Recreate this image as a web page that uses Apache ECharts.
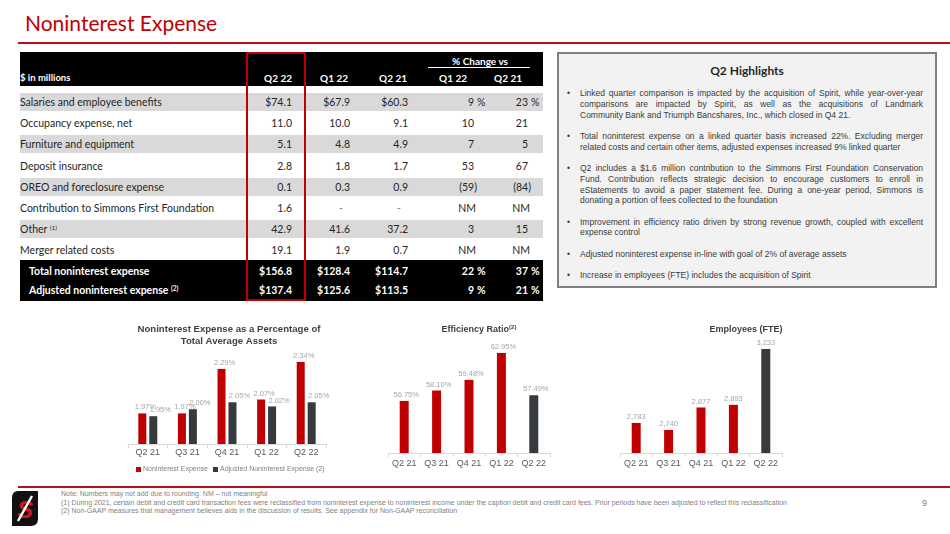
<!DOCTYPE html>
<html><head><meta charset="utf-8">
<script src="https://cdn.jsdelivr.net/npm/echarts@6/dist/echarts.min.js"></script>
<style>
html,body{margin:0;padding:0;background:#fff;}
body{width:950px;height:534px;overflow:hidden;position:relative;font-family:Lato,'Open Sans',sans-serif;}
.t{position:absolute;white-space:nowrap;}
.box{position:absolute;}
.sup{font-size:6.5px;position:relative;top:-3.5px;}
.hl{position:absolute;font-family:'Liberation Sans',Arial,sans-serif;font-size:8.5px;color:#3a3a3a;white-space:nowrap;}
.hlj{text-align:justify;text-align-last:justify;white-space:normal;}
.note{position:absolute;left:61px;font-family:'Liberation Sans',Arial,sans-serif;font-size:7.4px;color:#7f7f7f;white-space:nowrap;transform-origin:0 50%;}
</style></head><body>
<div id="chart" style="position:absolute;left:0;top:310px;width:950px;height:176px;"></div>
<script>
// ---------- DATA ----------
const categories = ['Q2 21','Q3 21','Q4 21','Q1 22','Q2 22'];
const nieToAssets = [1.97, 1.97, 2.29, 2.07, 2.34];
const adjNieToAssets = [1.95, 2.00, 2.05, 2.02, 2.05];
const efficiencyRatio = [56.75, 58.10, 59.48, 62.95, 57.49];
const employeesFTE = [2783, 2740, 2877, 2893, 3233];

const tableHeaders = ['$ in millions','Q2 22','Q1 22','Q2 21','Q1 22','Q2 21'];
const rowLabels = ['Salaries and employee benefits','Occupancy expense, net','Furniture and equipment','Deposit insurance','OREO and foreclosure expense','Contribution to Simmons First Foundation','Other','Merger related costs'];
const rowSup = ['','','','','','','(1)',''];
const valQ222 = ['$74.1','11.0','5.1','2.8','0.1','1.6','42.9','19.1'];
const valQ122 = ['$67.9','10.0','4.8','1.8','0.3','-','41.6','1.9'];
const valQ221 = ['$60.3','9.1','4.9','1.7','0.9','-','37.2','0.7'];
const chgVsQ122 = ['9','10','7','53','(59)','NM','3','NM'];
const chgVsQ221 = ['23','21','5','67','(84)','NM','15','NM'];
const totalLabels = ['Total noninterest expense','Adjusted noninterest expense'];
const totalSup = ['','(2)'];
const totQ222 = ['$156.8','$137.4'];
const totQ122 = ['$128.4','$125.6'];
const totQ221 = ['$114.7','$113.5'];
const totChgQ122 = ['22','9'];
const totChgQ221 = ['37','21'];

const highlights = [
 ['Linked quarter comparison is impacted by the acquisition of Spirit, while year-over-year','comparisons are impacted by Spirit, as well as the acquisitions of Landmark','Community Bank and Triumph Bancshares, Inc., which closed in Q4 21.'],
 ['Total noninterest expense on a  linked quarter basis increased 22%. Excluding merger','related costs and certain other items, adjusted expenses increased 9% linked quarter'],
 ['Q2 includes a $1.6 million contribution to the Simmons First Foundation Conservation','Fund. Contribution reflects strategic decision to encourage customers to enroll in','eStatements to avoid a paper statement fee. During a one-year period, Simmons is','donating a portion of fees collected to the foundation'],
 ['Improvement in efficiency ratio driven by strong revenue growth, coupled with excellent','expense control'],
 ['Adjusted noninterest expense in-line with goal of 2% of average assets'],
 ['Increase in employees (FTE) includes the acquisition of Spirit']
];
const notes = [
 'Note: Numbers may not add due to rounding.  NM \u2013 not meaningful',
 '(1)  During 2021, certain debit and credit card transaction fees were reclassified from noninterest expense to noninterest income under the caption debit and credit card fees. Prior periods have been adjusted to reflect this reclassification',
 '(2)  Non-GAAP measures that management believes aids in the discussion of results. See appendix for Non-GAAP reconciliation'
];

// ---------- HTML LAYOUT ----------
const B = document.body;
function rect(x,y,w,h,bg,extra){const d=document.createElement('div');d.className='box';d.style.cssText=`left:${x}px;top:${y}px;width:${w}px;height:${h}px;background:${bg};`+(extra||'');B.appendChild(d);return d;}
function put(s,x,yc,o){o=o||{};const d=document.createElement('div');d.className='t';d.innerHTML=s;const lh=14;
 d.style.top=(yc-lh/2)+'px';d.style.lineHeight=lh+'px';d.style.height=lh+'px';
 if(o.align==='right'){d.style.left=(x-250)+'px';d.style.width='250px';d.style.textAlign='right';}
 else if(o.align==='center'){d.style.left=(x-250)+'px';d.style.width='500px';d.style.textAlign='center';}
 else d.style.left=x+'px';
 d.style.fontSize=(o.size||10.5)+'px';d.style.fontWeight=o.bold?'700':'400';d.style.color=o.color||'#262626';
 if(o.font) d.style.fontFamily=o.font;
 B.appendChild(d);return d;}

// Title
put('Noninterest Expense',25,23,{size:21,color:'#C00000'});
rect(18,42,932,2,'#B4121B');

// Table
const TL=20, TW=523;
const colR=[292,350,408,474,528];
const pctX=[477,531];
rect(TL,52,TW,34,'#000');
put('% Change vs',480,61,{align:'center',bold:true,color:'#fff',size:10});
rect(428,67,102,1,'#fff');
put(tableHeaders[0],TL,78,{bold:true,color:'#fff',size:9.5});
put(tableHeaders[1],292,78,{align:'right',bold:true,color:'#fff',size:10});
put(tableHeaders[2],348,78,{align:'right',bold:true,color:'#fff',size:10});
put(tableHeaders[3],407,78,{align:'right',bold:true,color:'#fff',size:10});
put(tableHeaders[4],467,78,{align:'right',bold:true,color:'#fff',size:10});
put(tableHeaders[5],522,78,{align:'right',bold:true,color:'#fff',size:10});

function pctCell(v,ci,yc,o){
 const paren=v.charAt(0)==='(';
 const nm=v==='NM';
 put(v,colR[3+ci]+(paren?3:(nm?2:0)),yc,Object.assign({align:'right'},o));
}
rowLabels.forEach((lab,i)=>{
 const yc=102+21.2*i;
 if(i%2===0) rect(TL,yc-9,TW,18,'#D9D9D9');
});
rowLabels.forEach((lab,i)=>{
 const yc=102+21.2*i;
 put(lab+(rowSup[i]?' <span class="sup">'+rowSup[i]+'</span>':''),TL,yc);
 const dash=v=>v==='-';
 put(valQ222[i],colR[0],yc,{align:'right'});
 put(valQ122[i],colR[1]-(dash(valQ122[i])?7:0),yc,{align:'right',color:dash(valQ122[i])?'#7f7f7f':'#262626'});
 put(valQ221[i],colR[2]-(dash(valQ221[i])?7:0),yc,{align:'right',color:dash(valQ221[i])?'#7f7f7f':'#262626'});
 pctCell(chgVsQ122[i],0,yc,{});
 pctCell(chgVsQ221[i],1,yc,{});
 if(i===0){put('%',pctX[0],yc);put('%',pctX[1],yc);}
});
rect(TL,260,TW,41,'#000');
totalLabels.forEach((lab,i)=>{
 const yc=[271,290][i];
 const o={bold:true,color:'#fff'};
 put(lab+(totalSup[i]?' <span class="sup">'+totalSup[i]+'</span>':''),29,yc,o);
 put(totQ222[i],colR[0],yc,Object.assign({align:'right'},o));
 put(totQ122[i],colR[1],yc,Object.assign({align:'right'},o));
 put(totQ221[i],colR[2],yc,Object.assign({align:'right'},o));
 put(totChgQ122[i],colR[3],yc,Object.assign({align:'right'},o));
 put(totChgQ221[i],colR[4],yc,Object.assign({align:'right'},o));
 put('%',pctX[0],yc,o);put('%',pctX[1],yc,o);
});
// red highlight box around Q2 22 column
rect(246,52,60,249,'transparent','border:2px solid #C00000;box-sizing:border-box;');

// Highlights box
rect(557,52,380,236,'#F2F2F2','border:2px solid #7F7F7F;box-sizing:border-box;');
put('Q2 Highlights',747,71,{align:'center',bold:true,size:12});
let yy=93.3;
highlights.forEach(lines=>{
 const b=document.createElement('div');b.className='hl';b.textContent='\u2022';
 b.style.left='567px';b.style.top=(yy-6)+'px';b.style.lineHeight='12px';B.appendChild(b);
 lines.forEach((ln,k)=>{
  const d=document.createElement('div');d.className='hl'+(k<lines.length-1?' hlj':'');
  d.textContent=ln;d.style.left='580px';d.style.width='343px';
  d.style.top=(yy-6)+'px';d.style.lineHeight='12px';d.style.height='12px';
  B.appendChild(d);yy+=10.7;
 });
 yy+=10.7;
});

// Footer
rect(18,486,932,2,'#B4121B');
const logo=document.createElement('div');logo.className='box';
logo.style.cssText='left:12px;top:491px;width:26px;height:35px;';
logo.innerHTML='<svg width="26" height="35" viewBox="0 0 26 35"><path d="M6 0 H26 V28 Q26 35 19 35 H0 V7 Q0 0 6 0 Z" fill="#111"/><text x="13" y="27" text-anchor="middle" font-family="Liberation Sans" font-weight="700" font-style="italic" font-size="24" fill="#D7141E">S</text><line x1="20" y1="5" x2="6" y2="30" stroke="#fff" stroke-width="2.4"/></svg>';
B.appendChild(logo);
const noteEls=notes.map((n,i)=>{const d=document.createElement('div');d.className='note';d.textContent=n;d.style.top=(494+8.6*i-5)+'px';d.style.lineHeight='10px';B.appendChild(d);return d;});
const w1=noteEls[1].getBoundingClientRect().width;
const sc=726/w1;
noteEls.forEach(d=>{d.style.transform='scaleX('+sc+')';});
put('9',922,503,{size:9,color:'#808080',font:'Liberation Sans'});

// ---------- CHARTS ----------
const RED='#C00000', DARK='#373A3D', LBL='#A6A6A6';
const FF='Liberation Sans';
const chart=echarts.init(document.getElementById('chart'),null,{renderer:'canvas'});
function xAx(g,margin){return {type:'category',gridIndex:g,data:categories,
 axisLine:{show:true,lineStyle:{color:'#D9D9D9',width:1}},
 axisTick:{show:true,alignWithLabel:false,length:4,lineStyle:{color:'#D9D9D9'}},
 axisLabel:{color:'#595959',fontSize:9,margin:margin,fontFamily:FF},splitLine:{show:false}};}
function yAx(g,min,max){return {type:'value',gridIndex:g,min:min,max:max,show:false,splitLine:{show:false}};}
const lab=(fmt)=>({show:true,position:'top',distance:2,color:LBL,fontSize:7.5,fontFamily:FF,formatter:fmt});
const pct=p=>Number(p.value).toFixed(2)+'%';
const colorLast=(arr)=>arr.map((v,i)=>({value:v,itemStyle:{color:i===arr.length-1?DARK:RED}}));
chart.setOption({
 animation:false,
 grid:[
  {left:128,width:198,top:43.6,height:90.4},
  {left:388,width:162,top:35,height:108},
  {left:620,width:162,top:28,height:115}
 ],
 xAxis:[xAx(0,4),xAx(1,6),xAx(2,6)],
 yAxis:[yAx(0,1.75,2.40),yAx(1,50,64),yAx(2,2600,3300)],
 legend:{data:['Noninterest Expense','Adjusted Noninterest Expense (2)'],left:131,top:151,
  itemWidth:5,itemHeight:5,itemGap:5,icon:'rect',
  textStyle:{fontSize:7,color:'#808080',fontFamily:FF,padding:[0,0,0,-3]}},
 graphic:[
  {type:'text',x:229,y:25.5,style:{text:'Noninterest Expense as a Percentage of\nTotal Average Assets',align:'center',verticalAlign:'middle',font:'bold 9.6px Liberation Sans',lineHeight:11.5,fill:'#404040'}},
  {type:'text',x:479,y:20,style:{text:'{a|Efficiency Ratio}{s|(2)}',align:'center',verticalAlign:'middle',
    rich:{a:{fontSize:9,fontWeight:'bold',fontFamily:FF,fill:'#404040',lineHeight:11},s:{fontSize:6,fontWeight:'bold',fontFamily:FF,fill:'#404040',verticalAlign:'top',lineHeight:11}}}},
  {type:'text',x:746,y:20,style:{text:'Employees (FTE)',align:'center',verticalAlign:'middle',font:'bold 9px Liberation Sans',fill:'#404040'}}
 ],
 series:[
  {name:'Noninterest Expense',type:'bar',xAxisIndex:0,yAxisIndex:0,data:nieToAssets,barWidth:8,barGap:'37%',
   itemStyle:{color:RED},label:Object.assign(lab(pct),{offset:[3,0]})},
  {name:'Adjusted Noninterest Expense (2)',type:'bar',xAxisIndex:0,yAxisIndex:0,data:adjNieToAssets,barWidth:8,barGap:'37%',
   itemStyle:{color:DARK},label:Object.assign(lab(pct),{offset:[7,0]})},
  {name:'Efficiency Ratio',type:'bar',xAxisIndex:1,yAxisIndex:1,data:colorLast(efficiencyRatio),barWidth:9,
   label:Object.assign(lab(pct),{offset:[2,0]})},
  {name:'Employees (FTE)',type:'bar',xAxisIndex:2,yAxisIndex:2,data:colorLast(employeesFTE),barWidth:9,
   label:lab(p=>Number(p.value).toLocaleString('en-US'))}
 ]
});
</script>
</body></html>
